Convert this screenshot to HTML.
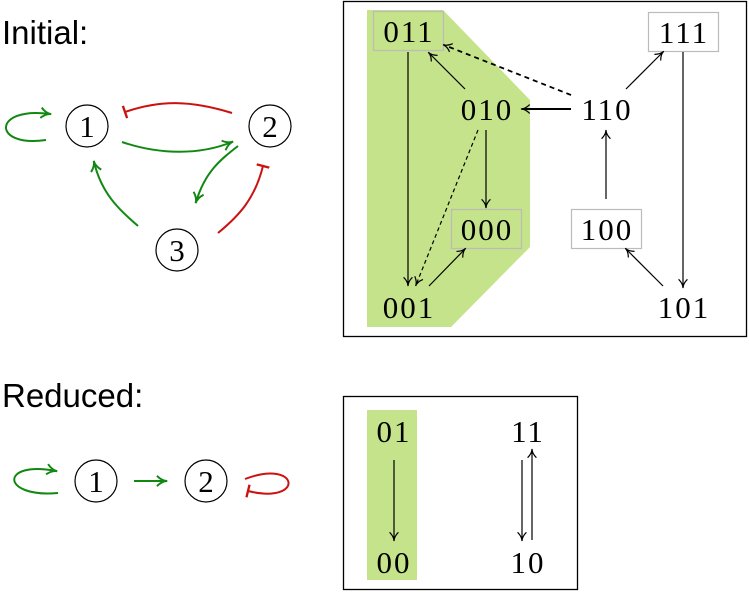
<!DOCTYPE html>
<html><head><style>
html,body{margin:0;padding:0;background:#fff;}
svg{display:block;}
.lbl{font-family:"Liberation Sans",sans-serif;font-size:33px;fill:#000;}
.n{font-family:"Liberation Serif",serif;font-size:31px;fill:#000;text-anchor:middle;}
.s{font-family:"Liberation Serif",serif;font-size:31px;fill:#000;text-anchor:middle;letter-spacing:2px;}
</style></head><body>
<svg width="749" height="595" viewBox="0 0 749 595" xmlns="http://www.w3.org/2000/svg">
<defs>
<marker id="ag" viewBox="0 0 10 10" refX="8" refY="5" markerWidth="13" markerHeight="13" orient="auto" markerUnits="userSpaceOnUse"><path d="M1,1 Q5,5 9,5 Q5,5 1,9" fill="none" stroke="#118811" stroke-width="1.5"/></marker>
<marker id="ak" viewBox="0 0 10 10" refX="8" refY="5" markerWidth="11" markerHeight="11" orient="auto" markerUnits="userSpaceOnUse"><path d="M1,1 Q5,5 9,5 Q5,5 1,9" fill="none" stroke="#000" stroke-width="1.1"/></marker>
<marker id="tr" viewBox="0 0 10 10" refX="5" refY="5" markerWidth="13" markerHeight="13" orient="auto" markerUnits="userSpaceOnUse"><path d="M5,0 L5,10" stroke="#cc1111" stroke-width="1.8"/></marker>
</defs>
<text class="lbl" x="2" y="44">Initial:</text>
<text class="lbl" x="2" y="407">Reduced:</text>

<g fill="none" stroke-width="2">
<circle cx="87" cy="126" r="21" stroke="#000" stroke-width="1.2"/>
<circle cx="270" cy="126" r="21" stroke="#000" stroke-width="1.2"/>
<circle cx="177" cy="250" r="21" stroke="#000" stroke-width="1.2"/>
<path d="M46,140 C-8,148 -8,106 50,114" stroke="#118811" marker-end="url(#ag)"/>
<path d="M232,113 C190,100 160,100 125,112" stroke="#cc1111" marker-end="url(#tr)"/>
<path d="M122,142 C160,155 200,155 232,142" stroke="#118811" marker-end="url(#ag)"/>
<path d="M238,146 C220,160 205,172 196,202" stroke="#118811" marker-end="url(#ag)"/>
<path d="M138,226 C120,210 102,195 94,162" stroke="#118811" marker-end="url(#ag)"/>
<path d="M218,233 C240,215 255,198 263,166" stroke="#cc1111" marker-end="url(#tr)"/>
</g>
<text class="n" x="87" y="137">1</text>
<text class="n" x="270" y="137">2</text>
<text class="n" x="177" y="261">3</text>

<g fill="none" stroke-width="2">
<circle cx="96" cy="481" r="21" stroke="#000" stroke-width="1.2"/>
<circle cx="206" cy="481" r="21" stroke="#000" stroke-width="1.2"/>
<path d="M58,493 C0,498 0,460 56,471" stroke="#118811" marker-end="url(#ag)"/>
<path d="M134,481 L166,481" stroke="#118811" marker-end="url(#ag)"/>
<path d="M245,479 C300,458 305,505 248,491" stroke="#cc1111" marker-end="url(#tr)"/>
</g>
<text class="n" x="96" y="492">1</text>
<text class="n" x="206" y="492">2</text>

<rect x="343.5" y="1.5" width="403" height="335" fill="none" stroke="#000" stroke-width="1.3"/>
<polygon points="367,10 443,10 530,100 530,247 451,327 367,327" fill="#c5e38a"/>
<rect x="373.5" y="11.5" width="70" height="39" fill="none" stroke="#bbb" stroke-width="1.2"/>
<rect x="648.5" y="12.5" width="70" height="39" fill="#fff" stroke="#bbb" stroke-width="1.2"/>
<rect x="451.5" y="209.5" width="70" height="39" fill="none" stroke="#bbb" stroke-width="1.2"/>
<rect x="571.5" y="209.5" width="70" height="39" fill="#fff" stroke="#bbb" stroke-width="1.2"/>
<text class="s" x="409" y="42">011</text>
<text class="s" x="684" y="43">111</text>
<text class="s" x="487" y="120">010</text>
<text class="s" x="607" y="120">110</text>
<text class="s" x="487" y="240">000</text>
<text class="s" x="607" y="240">100</text>
<text class="s" x="409" y="318">001</text>
<text class="s" x="684" y="318">101</text>
<g fill="none" stroke="#000" stroke-width="1.2">
<path d="M408,52 L408,285" marker-end="url(#ak)"/>
<path d="M465,89 L429,53" marker-end="url(#ak)"/>
<path d="M571,95 L444,45" stroke-width="1.8" stroke-dasharray="5,4" marker-end="url(#ak)"/>
<path d="M571,109 L522,109" stroke-width="2" marker-end="url(#ak)"/>
<path d="M486,130 L486,207" marker-end="url(#ak)"/>
<path d="M478,130 L416,285" stroke-dasharray="4,3" marker-end="url(#ak)"/>
<path d="M429,286 L465,249" marker-end="url(#ak)"/>
<path d="M626,89 L663,52" marker-end="url(#ak)"/>
<path d="M606,199 L606,131" marker-end="url(#ak)"/>
<path d="M683,52 L683,287" marker-end="url(#ak)"/>
<path d="M663,286 L626,249" marker-end="url(#ak)"/>
</g>

<rect x="343.5" y="396.5" width="234" height="193" fill="none" stroke="#000" stroke-width="1.3"/>
<rect x="367" y="410" width="50" height="170" fill="#c5e38a"/>
<text class="s" x="394" y="442">01</text>
<text class="s" x="394" y="573">00</text>
<text class="s" x="528" y="442">11</text>
<text class="s" x="528" y="573">10</text>
<g fill="none" stroke="#000" stroke-width="1.2">
<path d="M394,460 L394,540" marker-end="url(#ak)"/>
<path d="M522,460 L522,540" marker-end="url(#ak)"/>
<path d="M532,540 L532,450" marker-end="url(#ak)"/>
</g>
</svg>
</body></html>
